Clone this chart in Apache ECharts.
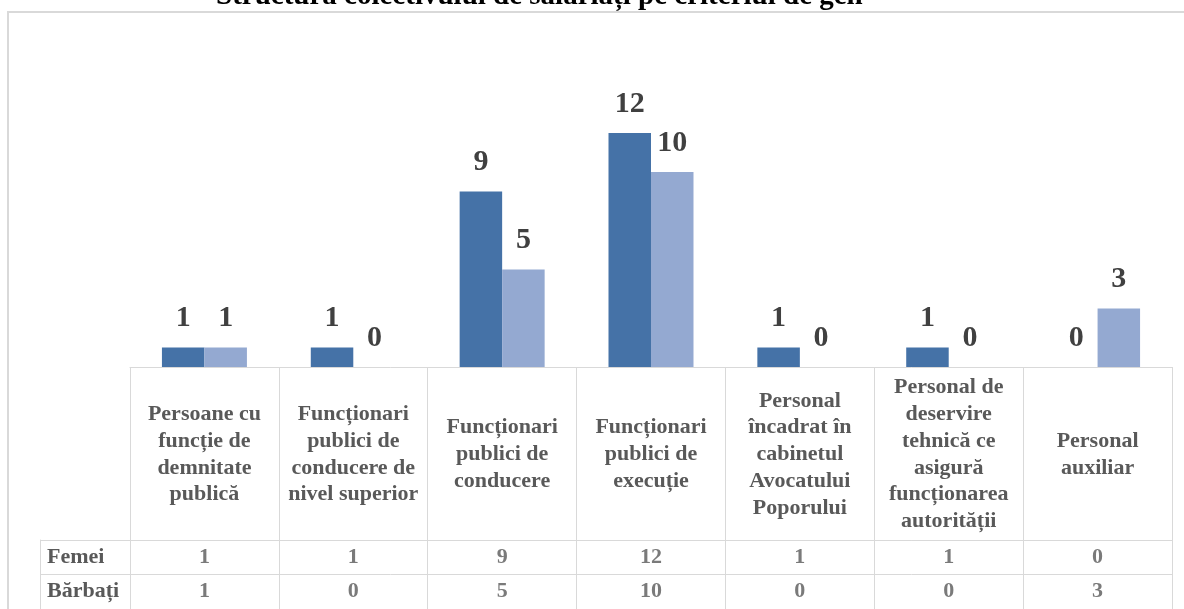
<!DOCTYPE html>
<html>
<head>
<meta charset="utf-8">
<script src="https://cdn.jsdelivr.net/npm/echarts@6/dist/echarts.min.js"></script>
<style>
html,body{margin:0;padding:0;background:#fff;}
#chart{width:1184px;height:609px;}
</style>
</head>
<body>
<div id="chart"></div>
<script>
var titleText = 'Structura colectivului de salariați pe criteriul de gen';
var categories = [
  'Persoane cu\nfuncție de\ndemnitate\npublică',
  'Funcționari\npublici de\nconducere de\nnivel superior',
  'Funcționari\npublici de\nconducere',
  'Funcționari\npublici de\nexecuție',
  'Personal\nîncadrat în\ncabinetul\nAvocatului\nPoporului',
  'Personal de\ndeservire\ntehnică ce\nasigură\nfuncționarea\nautorității',
  'Personal\nauxiliar'
];
var seriesNames = ['Femei', 'Bărbați'];
var femei = [1, 1, 9, 12, 1, 1, 0];
var barbati = [1, 0, 5, 10, 0, 0, 3];

var serif = "'Liberation Serif', 'Times New Roman', serif";
var lineCol = '#d9d9d9';
var textGray = '#595959';

var tableData = [];
for (var i = 0; i < categories.length; i++) {
  tableData.push([i, 0, femei[i]]);
  tableData.push([i, 1, barbati[i]]);
}

var chart = echarts.init(document.getElementById('chart'));
chart.setOption({
  animation: false,
  backgroundColor: '#fff',
  title: {
    text: titleText,
    left: 211,
    top: -23,
    textStyle: {fontFamily: serif, fontWeight: 'bold', fontSize: 29, lineHeight: 29, color: '#000'}
  },
  graphic: [{
    type: 'rect', z: -1, silent: true,
    shape: {x: 8, y: 12, width: 1200, height: 620},
    style: {fill: 'none', stroke: lineCol, lineWidth: 2}
  }],
  grid: [
    {left: 130, right: 12, top: 74.5, bottom: 242},
    {left: 130, right: 12, top: 540, height: 75.4}
  ],
  xAxis: [
    {
      type: 'category', gridIndex: 0, data: categories, position: 'bottom',
      axisLine: {show: true, lineStyle: {color: lineCol, width: 1}},
      axisTick: {show: true, length: 242, interval: 0, lineStyle: {color: lineCol, width: 1}},
      axisLabel: {
        interval: 0, margin: 87.5, verticalAlign: 'middle',
        fontFamily: serif, fontWeight: 'bold', fontSize: 22, lineHeight: 26.7, color: textGray
      },
      splitLine: {show: false}
    },
    {
      type: 'category', gridIndex: 1, data: categories, position: 'top',
      axisLine: {show: true, lineStyle: {color: lineCol, width: 1}},
      axisTick: {show: false}, axisLabel: {show: false}, splitLine: {show: false}
    }
  ],
  yAxis: [
    {type: 'value', gridIndex: 0, min: 0, max: 15, show: false},
    {
      type: 'category', gridIndex: 1, data: seriesNames, inverse: true, position: 'left',
      axisLine: {show: true, lineStyle: {color: lineCol, width: 1}},
      axisTick: {show: true, length: 90, interval: 0, lineStyle: {color: lineCol, width: 1}},
      axisLabel: {
        interval: 0, margin: 83, align: 'left',
        fontFamily: serif, fontWeight: 'bold', fontSize: 22, color: textGray
      },
      splitLine: {show: true, interval: 0, lineStyle: {color: lineCol, width: 1}}
    },
    {
      type: 'category', gridIndex: 1, data: seriesNames, inverse: true, position: 'left', offset: 90,
      axisLine: {show: true, lineStyle: {color: lineCol, width: 1}},
      axisTick: {show: false}, axisLabel: {show: false}, splitLine: {show: false}
    }
  ],
  series: [
    {
      name: seriesNames[0], type: 'bar', xAxisIndex: 0, yAxisIndex: 0,
      data: femei, barGap: '0%', barCategoryGap: '42.9%',
      itemStyle: {color: '#4572A7'},
      label: {show: true, position: 'top', distance: 14, fontFamily: serif, fontWeight: 'bold', fontSize: 30, color: '#404040'}
    },
    {
      name: seriesNames[1], type: 'bar', xAxisIndex: 0, yAxisIndex: 0,
      data: barbati, barGap: '0%', barCategoryGap: '42.9%',
      itemStyle: {color: '#94A9D1'},
      label: {show: true, position: 'top', distance: 14, fontFamily: serif, fontWeight: 'bold', fontSize: 30, color: '#404040'}
    },
    {
      type: 'scatter', xAxisIndex: 1, yAxisIndex: 1, silent: true,
      symbolSize: 1, itemStyle: {color: 'rgba(0,0,0,0)'},
      data: tableData,
      label: {
        show: true, position: 'inside',
        formatter: function (p) { return String(p.value[2]); },
        fontFamily: serif, fontWeight: 'bold', fontSize: 22, color: textGray
      }
    }
  ]
});
</script>
</body>
</html>
